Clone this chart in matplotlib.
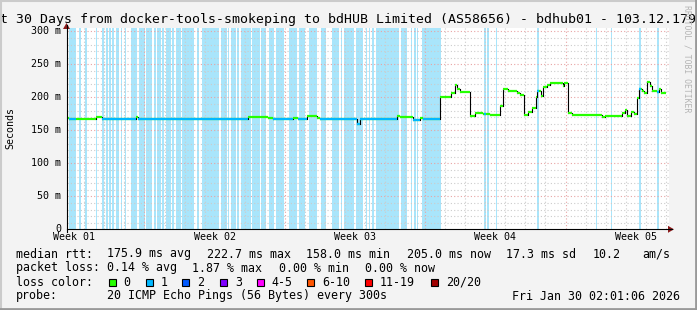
import numpy as np
import matplotlib
matplotlib.use('Agg')
import matplotlib.pyplot as plt
from matplotlib.patches import Rectangle

W, H = 697, 310

# median rtt (ms), step start in days from graph start
step_day = [0.00, 0.10, 1.45, 1.75, 3.44, 3.54, 5.94, 9.03, 10.02, 10.27, 11.27, 11.52,
            11.97, 12.47, 12.62, 14.46, 14.61, 16.46, 16.61, 17.26, 17.61, 17.76,
            18.60, 19.15, 19.35, 19.45, 19.60, 20.12, 20.35, 20.75, 21.10, 21.60,
            21.75, 21.99, 22.19, 22.44, 22.59, 22.77, 22.99, 23.19, 23.37, 23.44,
            23.64, 23.74, 23.94, 24.09, 24.72, 24.79, 25.01, 25.19, 26.68, 26.83,
            27.68, 27.83, 27.93, 28.13, 28.28, 28.43, 28.53, 28.68, 28.78, 28.95,
            29.08, 29.18, 29.43, 29.53, 29.65]
step_ms = [168.2, 166.4, 169.7, 166.4, 169.7, 166.4, 167.6, 169.7, 168.2, 166.4, 169.2, 166.4,
           171.7, 168.2, 166.4, 159.0, 166.7, 172.0, 169.7, 165.6, 168.0, 166.7,
           201.0, 206.0, 218.6, 212.0, 207.6, 171.7, 175.8, 174.2, 172.7, 187.3,
           212.6, 210.0, 209.5, 207.0, 204.0, 173.2, 178.2, 184.2, 201.0, 210.0,
           202.0, 216.0, 218.6, 222.1, 217.0, 222.1, 175.8, 173.2, 169.7, 171.7,
           175.8, 180.8, 171.7, 178.2, 174.2, 198.5, 212.0, 209.5, 206.0, 222.7,
           217.0, 210.0, 208.5, 212.0, 206.0]
end_day = 29.88

# periods where the median line has 1/20 loss (days)
line_loss_start = [0.10, 1.75, 3.54, 10.27, 11.52, 12.62, 17.26, 17.76, 20.80, 23.44, 28.53, 29.43]
line_loss_end = [0.45, 3.44, 9.03, 11.27, 11.97, 16.46, 17.61, 18.60, 20.90, 23.54, 28.63, 29.53]

# background: periods with 1/20 packet loss (days)
loss_start = [0.10, 0.60, 0.90, 1.45, 1.75, 1.95, 2.09, 2.24, 2.44, 2.69, 2.89, 3.19, 3.59,
              3.94, 4.34, 4.49, 4.74, 4.94, 5.24, 5.44, 5.74, 6.48, 6.73, 7.68, 8.03, 8.18,
              8.48, 8.68, 9.23, 9.68, 10.07, 10.42, 11.07, 11.57, 12.07, 12.67, 13.22, 13.67,
              13.82, 14.41, 14.91, 15.06, 15.21, 15.41, 16.66, 17.16, 17.31, 17.46, 17.71,
              20.80, 20.95, 21.40, 23.44, 26.38, 27.13, 28.53, 29.43]
loss_end = [0.45, 0.70, 1.00, 1.50, 1.85, 2.04, 2.19, 2.34, 2.59, 2.74, 2.94, 3.49, 3.89,
            4.24, 4.44, 4.69, 4.84, 5.19, 5.34, 5.69, 6.33, 6.58, 7.58, 7.98, 8.08, 8.43,
            8.58, 9.18, 9.63, 9.93, 10.32, 10.82, 11.47, 11.87, 12.47, 12.92, 13.57, 13.72,
            14.31, 14.76, 14.96, 15.11, 15.31, 16.56, 16.96, 17.21, 17.41, 17.51, 18.65,
            20.90, 21.05, 21.45, 23.54, 26.43, 27.18, 28.63, 29.53]

week_labels = ['Week 01', 'Week 02', 'Week 03', 'Week 04', 'Week 05']
y_ticks = [0, 50, 100, 150, 200, 250, 300]
y_tick_labels = ['0', '50 m', '100 m', '150 m', '200 m', '250 m', '300 m']

loss_names = ['0', '1', '2', '3', '4-5', '6-10', '11-19', '20/20']
loss_colors = ['#26ff00', '#00b8ff', '#0059ff', '#7e00ff', '#ff00ff', '#ff5500', '#ff0000', '#a10000']

title = 't 30 Days from docker-tools-smokeping to bdHUB Limited (AS58656) - bdhub01 - 103.12.179'
rtt_items = ['median rtt:', '175.9 ms avg', '222.7 ms max', '158.0 ms min', '205.0 ms now',
             '17.3 ms sd', '10.2', 'am/s']
loss_items = ['packet loss:', '0.14 % avg', '1.87 % max', '0.00 % min', '0.00 % now']
probe_text = '20 ICMP Echo Pings (56 Bytes) every 300s'
date_text = 'Fri Jan 30 02:01:06 2026'

MONO = 'DejaVu Sans Mono'


def fx(x):
    return x / W


def fy(y):
    return 1 - y / H


fig = plt.figure(figsize=(W / 100, H / 100), dpi=100)
fig.patch.set_facecolor('#f3f3f3')

left, right, top, bottom = 67, 668.5, 27.7, 229.3
ax = fig.add_axes([fx(left), fy(bottom), (right - left) / W, (bottom - top) / H])
ax.set_xlim(0, 30)
ax.set_ylim(0, 305.5)
ax.set_facecolor('white')
for s in ax.spines.values():
    s.set_visible(False)
ax.set_xticks([])
ax.set_yticks([])

# loss background
for a, b in zip(loss_start, loss_end):
    ax.axvspan(a, b, color='#a9e5fb', lw=0, zorder=1)

# grid
first_grid = 0.865
for k in range(30):
    d = first_grid + k
    major = (k - 3) % 7 == 0
    ax.axvline(d, color='#e8a4a4' if major else '#cccccc', lw=0.8,
               ls=(0, (1, 2)), zorder=2)
for v in range(10, 310, 10):
    major = v % 50 == 0
    ax.axhline(v, color='#e8a4a4' if major else '#cccccc', lw=0.8,
               ls=(0, (1, 2)), zorder=2)

# median line: black steps, colored segments by loss
ends = step_day[1:] + [end_day]
for i in range(1, len(step_day)):
    ax.plot([step_day[i], step_day[i]], [step_ms[i - 1], step_ms[i]],
            color='black', lw=0.8, zorder=3)
for x0, x1, v in zip(step_day, ends, step_ms):
    ax.plot([x0, x1], [v, v], color=loss_colors[0], lw=1.6, zorder=4,
            solid_capstyle='butt')
    for a, b in zip(line_loss_start, line_loss_end):
        lo, hi = max(a, x0), min(b, x1)
        if hi > lo:
            ax.plot([lo, hi], [v, v], color=loss_colors[1], lw=1.6, zorder=5,
                    solid_capstyle='butt')

# axes lines and arrows
fig.add_artist(plt.Line2D([fx(66.5), fx(672)], [fy(bottom), fy(bottom)], color='black', lw=0.8))
fig.add_artist(plt.Line2D([fx(66.5), fx(66.5)], [fy(bottom + 3), fy(25)], color='black', lw=0.8))
fig.add_artist(plt.Polygon([[fx(668), fy(bottom - 3.5)], [fx(668), fy(bottom + 3.5)],
                            [fx(674), fy(bottom)]], color='#8b1a1a', lw=0))
fig.add_artist(plt.Polygon([[fx(63), fy(29)], [fx(70), fy(29)], [fx(66.5), fy(23)]],
                           color='#8b1a1a', lw=0))

# y tick labels
for v, lab in zip(y_ticks, y_tick_labels):
    y = ax.transData.transform((0, v))[1]
    fig.text(fx(61), y / H, lab, ha='right', va='center', family=MONO, fontsize=7.2)
fig.text(fx(10), fy(128), 'Seconds', rotation=90, ha='center', va='center',
         family=MONO, fontsize=7.2)

# week labels
for k, lab in enumerate(week_labels):
    d = first_grid + 3 - 3.5 + 7 * k
    ax.text(d, -4, lab, ha='center', va='top', family=MONO, fontsize=7.2, clip_on=False)

# title
fig.text(fx(-0.5), fy(19), title, ha='left', va='center', family=MONO, fontsize=9.5)
fig.text(fx(687), fy(5), 'RRDTOOL / TOBI OETIKER', rotation=270, ha='center', va='top',
         family=MONO, fontsize=5.9, color='#b4b4b4')

# legend
rtt_x = [16, 107, 207, 306.5, 407, 506.5, 593, 642]
for x, t in zip(rtt_x, rtt_items):
    fig.text(fx(x), fy(254), t, ha='left', va='center', family=MONO, fontsize=8.4)
loss_x = [16, 107, 192, 279, 365]
for x, t in zip(loss_x, loss_items):
    fig.text(fx(x), fy(268), t, ha='left', va='center', family=MONO, fontsize=8.4)
fig.text(fx(16), fy(282), 'loss color:', ha='left', va='center', family=MONO, fontsize=8.4)
sw_x = [108.5, 145.7, 182.3, 220, 256.7, 307.3, 365, 430.7]
for x, name, c in zip(sw_x, loss_names, loss_colors):
    fig.add_artist(Rectangle((fx(x), fy(285.5)), 7 / W, 7 / H, facecolor=c,
                             edgecolor='black', lw=0.8))
    fig.text(fx(x + 15), fy(282), name, ha='left', va='center', family=MONO, fontsize=8.4)
fig.text(fx(16), fy(296), 'probe:', ha='left', va='center', family=MONO, fontsize=8.4)
fig.text(fx(107), fy(296), probe_text, ha='left', va='center', family=MONO, fontsize=8.4)
fig.text(fx(680), fy(296), date_text, ha='right', va='center', family=MONO, fontsize=8.4)

# frame
fig.add_artist(plt.Line2D([0, 1], [fy(0.5), fy(0.5)], color='#cbcbcb', lw=1.5, zorder=10))
fig.add_artist(plt.Line2D([fx(0.5), fx(0.5)], [0, 1], color='#cbcbcb', lw=1.5, zorder=10))
fig.add_artist(plt.Line2D([0, 1], [fy(308.5), fy(308.5)], color='#999999', lw=2, zorder=10))
fig.add_artist(plt.Line2D([fx(695.5), fx(695.5)], [0, 1], color='#999999', lw=2, zorder=10))

fig.savefig('out.png', dpi=100, facecolor=fig.get_facecolor())
